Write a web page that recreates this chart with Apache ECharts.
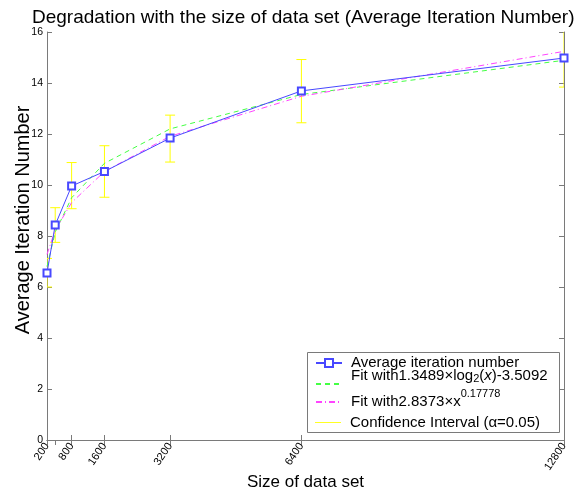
<!DOCTYPE html>
<html>
<head>
<meta charset="utf-8">
<script src="https://cdn.jsdelivr.net/npm/echarts@6/dist/echarts.min.js"></script>
<style>
html, body { margin: 0; padding: 0; background: #fff; }
#chart { width: 577px; height: 495px; }
</style>
</head>
<body>
<div id="chart"></div>
<script>
var sizes = [200, 400, 800, 1600, 3200, 6400, 12800];
var avgIter = [6.55, 8.43, 9.96, 10.53, 11.84, 13.69, 14.98];
var ciLow = [6.0, 7.75, 9.07, 9.52, 10.9, 12.44, 13.84];
var ciHigh = [7.12, 9.11, 10.88, 11.54, 12.74, 14.92, 16.12];
var fitLog = [6.80, 8.15, 9.50, 10.85, 12.20, 13.55, 14.89];
var fitPow = [7.28, 8.23, 9.31, 10.53, 11.91, 13.48, 15.24];
var xTicks = [200, 400, 800, 1600, 3200, 6400, 12800];

var names = ["Average iteration number", "Fit log2", "Fit power", "Confidence Interval"];
var font = "Liberation Sans, Arial, sans-serif";
var axisGray = "#7a7a7a";
var blue = "#4848ff", green = "#44ff44", magenta = "#ff44ff", yellow = "#ffff00";

function pairs(xs, ys) {
    var r = [];
    for (var i = 0; i < xs.length; i++) r.push([xs[i], ys[i]]);
    return r;
}

var ciData = [];
for (var i = 0; i < sizes.length; i++) ciData.push([sizes[i], ciLow[i], ciHigh[i]]);

// sub/superscripts: uneven top/bottom padding moves a token up without growing the line
function legendText(name) {
    if (name == names[0]) return "{a|Average iteration number}";
    if (name == names[1]) return "{ua|Fit with1.3489\u00d7log}{sub|2}{u|(}{ui|x}{u|)-3.5092}";
    if (name == names[2]) return "{a|Fit with2.8373\u00d7x}{sup|0.17778}";
    return "{a|Confidence Interval (\u03b1=0.05)}";
}

var hidden = { color: "rgba(0,0,0,0)", borderColor: "rgba(0,0,0,0)", borderWidth: 0 };
var legendItems = [
    { name: names[0] },
    { name: names[1], itemStyle: hidden },
    { name: names[2], itemStyle: hidden },
    { name: names[3], icon: "path://M0,0H30V1H0Z", itemStyle: { color: yellow } }
];
// one legend per row, since the raised tokens make the rows uneven
var legendTops = [353, 368.5, 388.5, 412.5];

var legends = [];
for (var k = 0; k < legendItems.length; k++) {
    legends.push({
        orient: "vertical",
        left: 315,
        top: legendTops[k],
        padding: 0,
        itemWidth: 26,
        itemHeight: 10,
        selectedMode: false,
        data: [legendItems[k]],
        formatter: legendText,
        textStyle: {
            fontFamily: font,
            fontSize: 15,
            lineHeight: 20,
            color: "#000",
            rich: {
                a: { fontSize: 15, lineHeight: 20, padding: [0, 0, 0, 4] },
                ua: { fontSize: 15, lineHeight: 20, padding: [-8, 0, 8, 4] },
                u: { fontSize: 15, lineHeight: 20, padding: [-8, 0, 8, 0] },
                ui: { fontSize: 15, lineHeight: 20, padding: [-8, 0, 8, 0], fontStyle: "italic" },
                sub: { fontSize: 11, lineHeight: 20, padding: [-5, 0, 5, 0] },
                sup: { fontSize: 11, lineHeight: 20, padding: [-8, 0, 8, 0] }
            }
        }
    });
}

var chart = echarts.init(document.getElementById("chart"), null, { renderer: "canvas" });

chart.setOption({
    animation: false,
    backgroundColor: "#fff",
    textStyle: { fontFamily: font },
    title: {
        text: "Degradation with the size of data set (Average Iteration Number)",
        left: 27,
        top: 3,
        textStyle: { fontFamily: font, fontSize: 19, fontWeight: "normal", color: "#000" }
    },
    grid: { left: 47, right: 13, top: 32, bottom: 55, outerBoundsMode: "none" },
    graphic: [{
        type: "rect",
        z: 3,
        shape: { x: 307.5, y: 352.5, width: 252, height: 80 },
        style: { fill: "#fff", stroke: axisGray, lineWidth: 1 }
    }],
    legend: legends,
    xAxis: [{
        type: "value",
        min: 200,
        max: 12800,
        position: "bottom",
        name: "Size of data set",
        nameLocation: "middle",
        nameGap: 34,
        nameMoveOverlap: false,
        nameTextStyle: { fontFamily: font, fontSize: 17, color: "#000" },
        axisLine: { lineStyle: { color: axisGray, width: 1 } },
        axisTick: { inside: true, length: 5, lineStyle: { color: axisGray }, customValues: xTicks },
        axisLabel: {
            customValues: xTicks,
            showMinLabel: true,
            showMaxLabel: true,
            hideOverlap: false,
            rotate: 56,
            margin: 4,
            fontSize: 11,
            color: "#000",
            fontFamily: font,
            formatter: function(v) { return String(v); }
        },
        splitLine: { show: false }
    }, {
        type: "value",
        min: 200,
        max: 12800,
        position: "top",
        axisLine: { lineStyle: { color: axisGray, width: 1 } },
        axisTick: { inside: true, length: 5, lineStyle: { color: axisGray }, customValues: xTicks },
        axisLabel: { show: false },
        splitLine: { show: false }
    }],
    yAxis: [{
        type: "value",
        min: 0,
        max: 16,
        interval: 2,
        position: "left",
        name: "Average Iteration Number",
        nameLocation: "middle",
        nameGap: 14,
        nameMoveOverlap: false,
        nameTextStyle: { fontFamily: font, fontSize: 20, color: "#000", padding: [0, 0, 0, 32] },
        axisLine: { show: true, lineStyle: { color: axisGray, width: 1 } },
        axisTick: { show: true, inside: true, length: 5, lineStyle: { color: axisGray } },
        axisLabel: { margin: 4, fontSize: 10.5, color: "#000", fontFamily: font },
        splitLine: { show: false }
    }, {
        type: "value",
        min: 0,
        max: 16,
        interval: 2,
        position: "right",
        axisLine: { show: true, lineStyle: { color: axisGray, width: 1 } },
        axisTick: { show: true, inside: true, length: 5, lineStyle: { color: axisGray } },
        axisLabel: { show: false },
        splitLine: { show: false }
    }],
    series: [{
        name: names[3],
        type: "custom",
        clip: true,
        z: 1,
        data: ciData,
        renderItem: function(params, api) {
            var x = api.value(0), lo = api.coord([x, api.value(1)]), hi = api.coord([x, api.value(2)]), w = 5;
            var st = { stroke: yellow, lineWidth: 1 };
            return {
                type: "group",
                children: [
                    { type: "line", shape: { x1: lo[0], y1: lo[1], x2: hi[0], y2: hi[1] }, style: st },
                    { type: "line", shape: { x1: lo[0] - w, y1: lo[1], x2: lo[0] + w, y2: lo[1] }, style: st },
                    { type: "line", shape: { x1: hi[0] - w, y1: hi[1], x2: hi[0] + w, y2: hi[1] }, style: st }
                ]
            };
        }
    }, {
        name: names[1],
        type: "line",
        z: 2,
        symbol: "none",
        data: pairs(sizes, fitLog),
        lineStyle: { color: green, width: 1, type: [5, 4] },
        itemStyle: { color: green }
    }, {
        name: names[2],
        type: "line",
        z: 2,
        symbol: "none",
        data: pairs(sizes, fitPow),
        lineStyle: { color: magenta, width: 1, type: [6, 3, 1, 3] },
        itemStyle: { color: magenta }
    }, {
        name: names[0],
        type: "line",
        z: 3,
        symbol: "emptyRect",
        symbolSize: 7,
        data: pairs(sizes, avgIter),
        lineStyle: { color: blue, width: 1 },
        itemStyle: { color: blue, borderColor: blue, borderWidth: 1 }
    }]
});
</script>
</body>
</html>
